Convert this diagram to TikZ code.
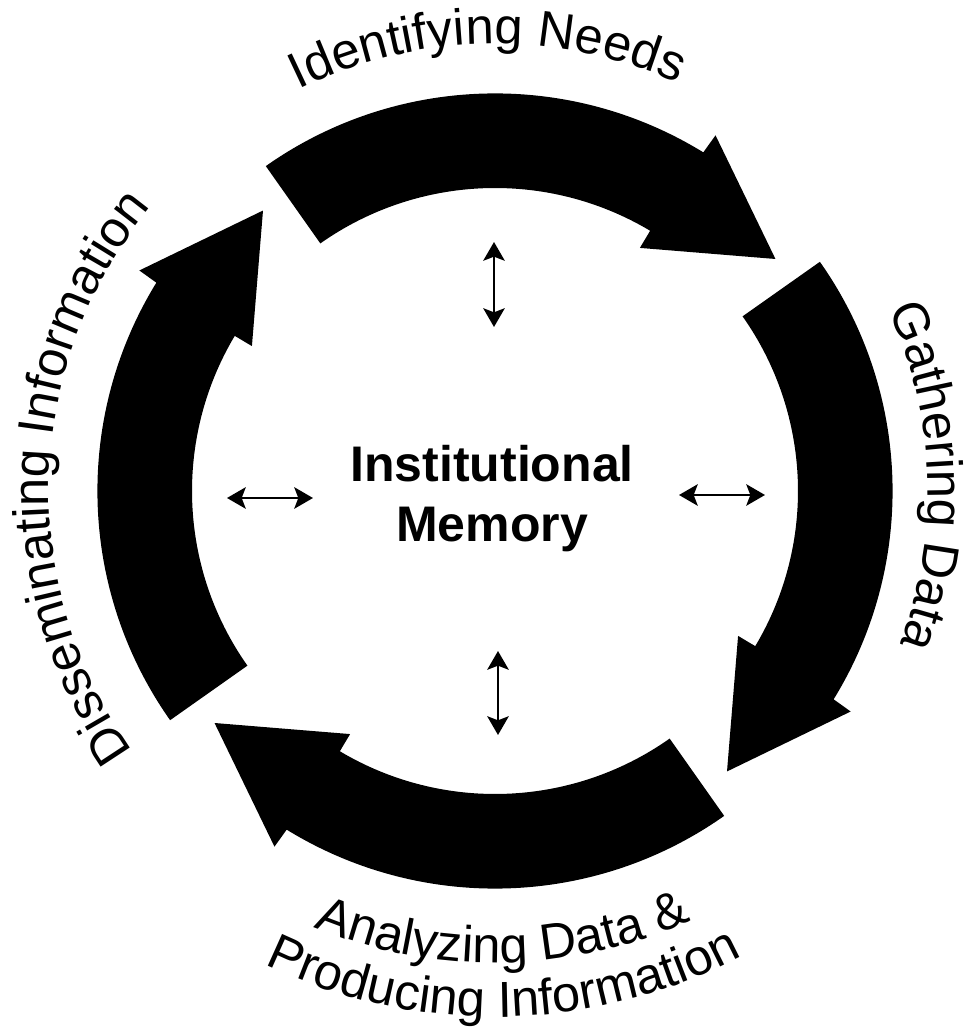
\documentclass[tikz,border=0pt]{standalone}
\usepackage{amssymb, mathtools, amsmath}
\usepackage{fontspec}
\setmainfont{Liberation Sans}
\usepackage{tikz}
\usetikzlibrary{arrows.meta,decorations.text}

\newcommand{\ringfont}{\fontsize{38}{38}\selectfont}
\tikzset{
  cyclearrow/.style={fill=black, draw=none},
  linkarrow/.style={line width=2.2pt, {Stealth[length=14pt,width=16pt,inset=3pt]}-{Stealth[length=14pt,width=16pt,inset=3pt]}},
  ringtext/.style={decorate, decoration={text along path, text align=center, text={#1}}}
}

\begin{document}
\begin{tikzpicture}[x=0.75pt,y=0.75pt]
%set diagram size, origin at the centre of the ring
\useasboundingbox (-495,-539) rectangle (478,491);

%Shape: Curved Arrow [top]
\fill [cyclearrow] (125.2:397.6) arc[start angle=125.2, end angle=58.4, radius=397.6] -- (58.2:418.5) -- (39.6:364) -- (59.2:283) -- (59.2:303) arc[start angle=59.2, end angle=125.2, radius=303] -- cycle ;
%Shape: Curved Arrow [right]
\fill [cyclearrow, rotate=-90] (125.2:397.6) arc[start angle=125.2, end angle=58.4, radius=397.6] -- (58.2:418.5) -- (39.6:364) -- (59.2:283) -- (59.2:303) arc[start angle=59.2, end angle=125.2, radius=303] -- cycle ;
%Shape: Curved Arrow [bottom]
\fill [cyclearrow, rotate=-180] (125.2:397.6) arc[start angle=125.2, end angle=58.4, radius=397.6] -- (58.2:418.5) -- (39.6:364) -- (59.2:283) -- (59.2:303) arc[start angle=59.2, end angle=125.2, radius=303] -- cycle ;
%Shape: Curved Arrow [left]
\fill [cyclearrow, rotate=90] (125.2:397.6) arc[start angle=125.2, end angle=58.4, radius=397.6] -- (58.2:418.5) -- (39.6:364) -- (59.2:283) -- (59.2:303) arc[start angle=59.2, end angle=125.2, radius=303] -- cycle ;

% Text Node
\node [font=\bfseries\fontsize{37.5}{45}\selectfont, align=center, inner sep=0pt] (memory) at (-3,-7.6) {Institutional\\Memory};

%Straight Lines [double arrows]
\coordinate (topA) at (-1,249);
\coordinate (topB) at (-1,164);
\coordinate (botA) at (3,-160);
\coordinate (botB) at (3,-244);
\coordinate (leftA) at (-268,-7);
\coordinate (leftB) at (-182,-7);
\coordinate (rightA) at (184,-4);
\coordinate (rightB) at (270,-4);
\draw [linkarrow] (topA) -- (topB) ;
\draw [linkarrow] (botA) -- (botB) ;
\draw [linkarrow] (leftA) -- (leftB) ;
\draw [linkarrow] (rightA) -- (rightB) ;

% Text along the ring
\path [ringtext={|\ringfont|Identifying Needs}] (136:447) arc[start angle=136, end angle=46, radius=447] ;
\path [ringtext={|\ringfont|Gathering Data}] (47:433) arc[start angle=47, end angle=-43, radius=433] ;
\path [ringtext={|\ringfont|Disseminating Information}] (238:446) arc[start angle=238, end angle=118, radius=446] ;
\path [ringtext={|\ringfont|Analyzing Data {\&}}] (226:472) arc[start angle=226, end angle=316, radius=472] ;
\path [ringtext={|\ringfont|Producing Information}] (226:526) arc[start angle=226, end angle=316, radius=526] ;

\end{tikzpicture}
\end{document}
